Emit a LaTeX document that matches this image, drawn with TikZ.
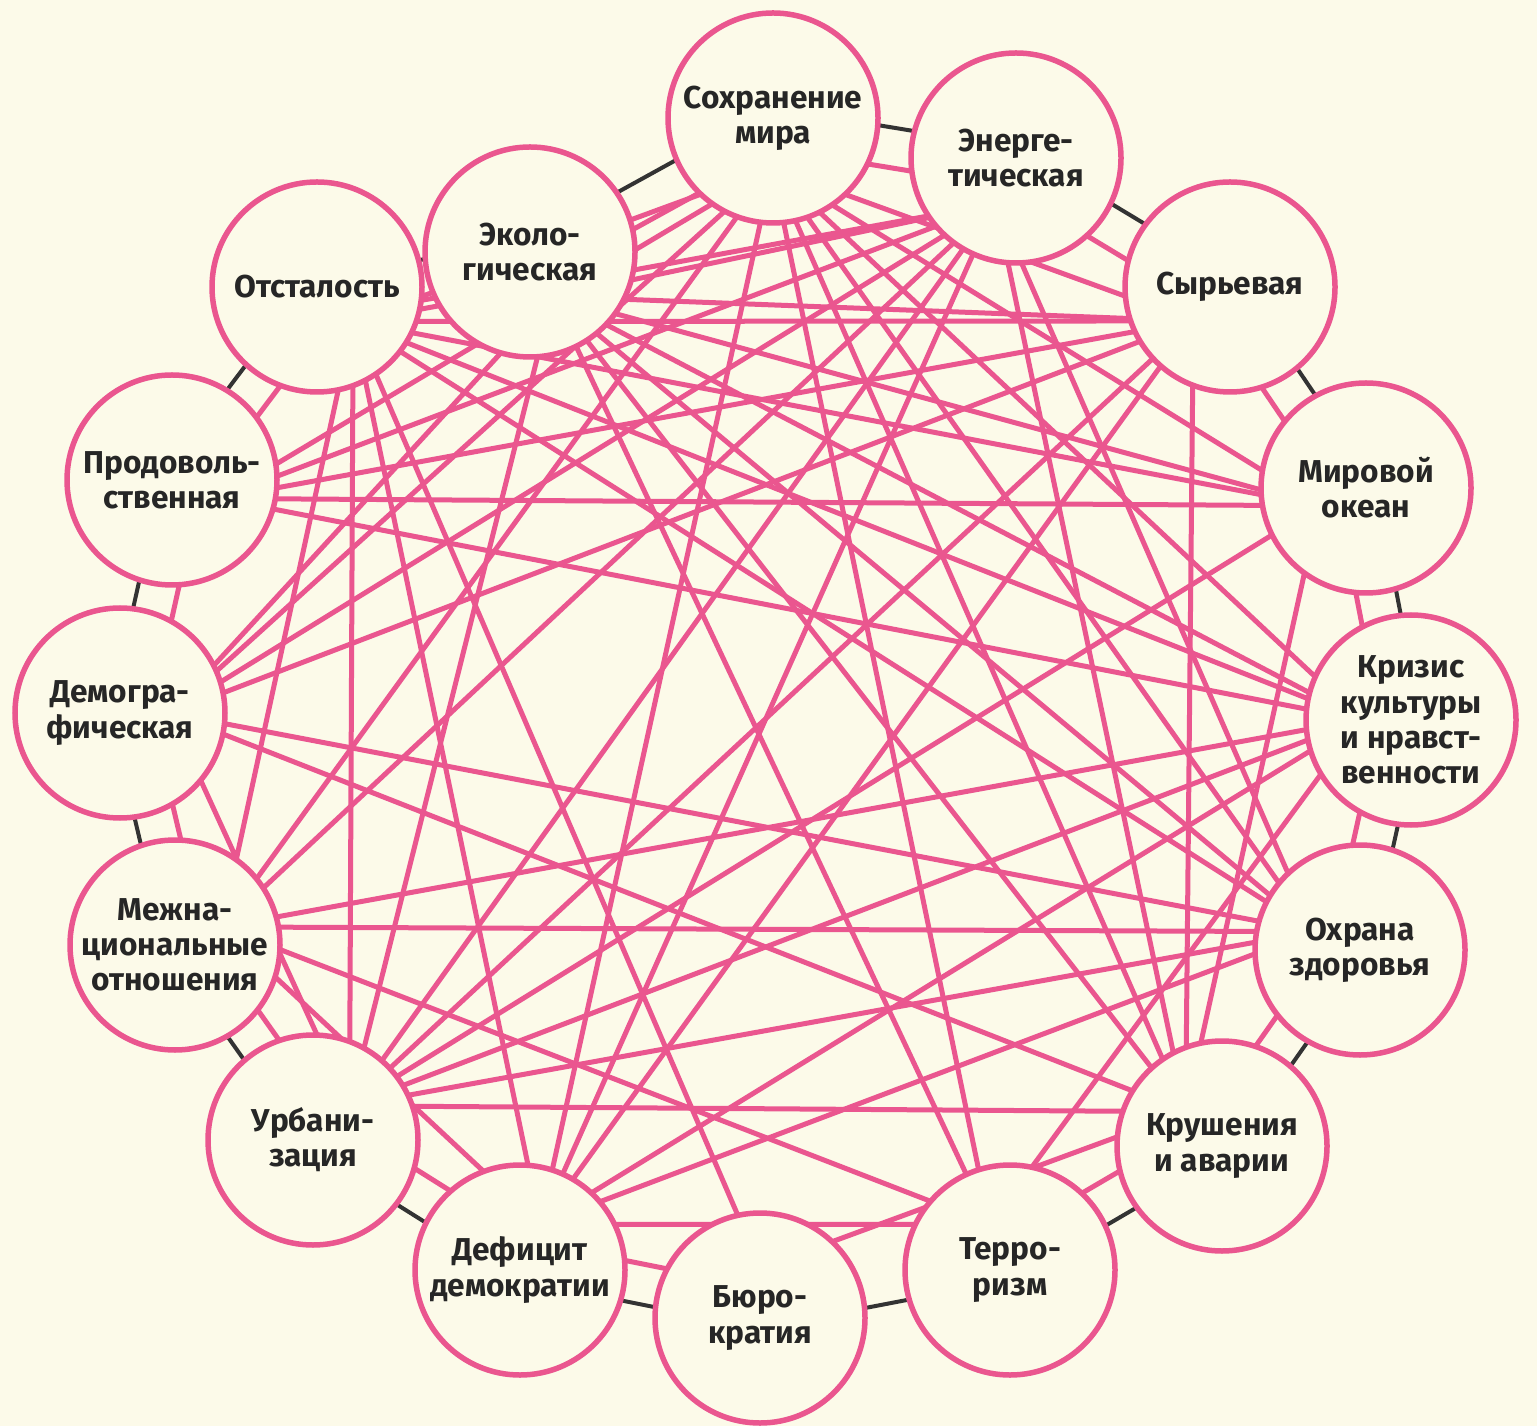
\documentclass[tikz,border=0pt]{standalone}
\usepackage{fontspec}
\setmainfont{Fira Sans}
\usetikzlibrary{backgrounds,calc}
\definecolor{ringpink}{RGB}{234,86,143}
\definecolor{paper}{RGB}{252,250,233}
\tikzset{problem/.style={draw=ringpink, line width=0.055cm, circle, fill=paper, minimum size=2.1cm, inner sep=0pt, align=center, font=\fontsize{9}{10}\selectfont\bfseries, text=black!85}}
\tikzset{link/.style={draw=ringpink, line width=0.05cm}}
\tikzset{ring/.style={draw=black!80, line width=0.04cm}}

\begin{document}
\begin{tikzpicture}
\useasboundingbox (0,0) rectangle (15.37,14.26);
\coordinate (ctr) at (7.66,7.10);
% the sixteen problems, clockwise from the top
\node[problem] (mir) at (7.73,13.08) {Сохранение\\мира};
\node[problem] (energy) at (10.16,12.68) {Энерге-\\тическая};
\node[problem] (raw) at (12.30,11.39) {Сырьевая};
\node[problem] (ocean) at (13.66,9.38) {Мировой\\океан};
\node[problem] (culture) at (14.11,7.06) {Кризис\\культуры\\и нравст-\\венности};
\node[problem] (health) at (13.60,4.76) {Охрана\\здоровья};
\node[problem] (crash) at (12.22,2.80) {Крушения\\и аварии};
\node[problem] (terror) at (10.10,1.56) {Терро-\\ризм};
\node[problem] (bureau) at (7.60,1.08) {Бюро-\\кратия};
\node[problem] (deficit) at (5.20,1.56) {Дефицит\\демократии};
\node[problem] (urban) at (3.13,2.86) {Урбани-\\зация};
\node[problem] (ethnic) at (1.75,4.81) {Межна-\\циональные\\отношения};
\node[problem] (demo) at (1.20,7.13) {Демогра-\\фическая};
\node[problem] (food) at (1.72,9.46) {Продоволь-\\ственная};
\node[problem] (backward) at (3.17,11.39) {Отсталость};
\node[problem] (eco) at (5.30,11.74) {Эколо-\\гическая};
% where the links of each circle meet, inside it
\coordinate (mir-f) at ($(mir)!0.5cm!(ctr)$);
\coordinate (energy-f) at ($(energy)!0.5cm!(ctr)$);
\coordinate (raw-f) at ($(raw)!0.5cm!(ctr)$);
\coordinate (ocean-f) at ($(ocean)!0.5cm!(ctr)$);
\coordinate (culture-f) at ($(culture)!0.5cm!(ctr)$);
\coordinate (health-f) at ($(health)!0.5cm!(ctr)$);
\coordinate (crash-f) at ($(crash)!0.5cm!(ctr)$);
\coordinate (terror-f) at ($(terror)!0.5cm!(ctr)$);
\coordinate (bureau-f) at ($(bureau)!0.5cm!(ctr)$);
\coordinate (deficit-f) at ($(deficit)!0.5cm!(ctr)$);
\coordinate (urban-f) at ($(urban)!0.5cm!(ctr)$);
\coordinate (ethnic-f) at ($(ethnic)!0.5cm!(ctr)$);
\coordinate (demo-f) at ($(demo)!0.5cm!(ctr)$);
\coordinate (food-f) at ($(food)!0.5cm!(ctr)$);
\coordinate (backward-f) at ($(backward)!0.5cm!(ctr)$);
\coordinate (eco-f) at ($(eco)!0.5cm!(ctr)$);

\begin{scope}[on background layer]
\fill[paper] (0,0) rectangle (15.37,14.26);
% neighbours: black outside, pink inside
\draw[ring] ($(mir)!0.1cm!90:(energy)$) -- ($(energy)!0.1cm!-90:(mir)$);
\draw[ring] ($(energy)!0.1cm!90:(raw)$) -- ($(raw)!0.1cm!-90:(energy)$);
\draw[ring] ($(raw)!0.1cm!90:(ocean)$) -- ($(ocean)!0.1cm!-90:(raw)$);
\draw[ring] ($(ocean)!0.1cm!90:(culture)$) -- ($(culture)!0.1cm!-90:(ocean)$);
\draw[ring] ($(culture)!0.1cm!90:(health)$) -- ($(health)!0.1cm!-90:(culture)$);
\draw[ring] ($(health)!0.1cm!90:(crash)$) -- ($(crash)!0.1cm!-90:(health)$);
\draw[ring] ($(crash)!0.1cm!90:(terror)$) -- ($(terror)!0.1cm!-90:(crash)$);
\draw[ring] ($(terror)!0.1cm!90:(bureau)$) -- ($(bureau)!0.1cm!-90:(terror)$);
\draw[ring] ($(bureau)!0.1cm!90:(deficit)$) -- ($(deficit)!0.1cm!-90:(bureau)$);
\draw[ring] ($(deficit)!0.1cm!90:(urban)$) -- ($(urban)!0.1cm!-90:(deficit)$);
\draw[ring] ($(urban)!0.1cm!90:(ethnic)$) -- ($(ethnic)!0.1cm!-90:(urban)$);
\draw[ring] ($(ethnic)!0.1cm!90:(demo)$) -- ($(demo)!0.1cm!-90:(ethnic)$);
\draw[ring] ($(demo)!0.1cm!90:(food)$) -- ($(food)!0.1cm!-90:(demo)$);
\draw[ring] ($(food)!0.1cm!90:(backward)$) -- ($(backward)!0.1cm!-90:(food)$);
\draw[ring] ($(backward)!0.1cm!90:(eco)$) -- ($(eco)!0.1cm!-90:(backward)$);
\draw[ring] ($(eco)!0.1cm!90:(mir)$) -- ($(mir)!0.1cm!-90:(eco)$);
\draw[link] ($(mir)!0.3cm!-90:(energy)$) -- ($(energy)!0.3cm!90:(mir)$);
\draw[link] ($(energy)!0.3cm!-90:(raw)$) -- ($(raw)!0.3cm!90:(energy)$);
\draw[link] ($(raw)!0.3cm!-90:(ocean)$) -- ($(ocean)!0.3cm!90:(raw)$);
\draw[link] ($(ocean)!0.3cm!-90:(culture)$) -- ($(culture)!0.3cm!90:(ocean)$);
\draw[link] ($(culture)!0.3cm!-90:(health)$) -- ($(health)!0.3cm!90:(culture)$);
\draw[link] ($(health)!0.3cm!-90:(crash)$) -- ($(crash)!0.3cm!90:(health)$);
\draw[link] ($(crash)!0.3cm!-90:(terror)$) -- ($(terror)!0.3cm!90:(crash)$);
\draw[link] ($(bureau)!0.3cm!-90:(deficit)$) -- ($(deficit)!0.3cm!90:(bureau)$);
\draw[link] ($(deficit)!0.3cm!-90:(urban)$) -- ($(urban)!0.3cm!90:(deficit)$);
\draw[link] ($(urban)!0.3cm!-90:(ethnic)$) -- ($(ethnic)!0.3cm!90:(urban)$);
\draw[link] ($(ethnic)!0.3cm!-90:(demo)$) -- ($(demo)!0.3cm!90:(ethnic)$);
\draw[link] ($(demo)!0.3cm!-90:(food)$) -- ($(food)!0.3cm!90:(demo)$);
\draw[link] ($(food)!0.3cm!-90:(backward)$) -- ($(backward)!0.3cm!90:(food)$);
\draw[link] ($(backward)!0.3cm!-90:(eco)$) -- ($(eco)!0.3cm!90:(backward)$);
\draw[link] ($(eco)!0.3cm!-90:(mir)$) -- ($(mir)!0.3cm!90:(eco)$);
% links across the ring
\draw[link] (mir-f) -- (backward-f) (mir-f) -- (food-f) (mir-f) -- (demo-f) (mir-f) -- (ethnic-f) (mir-f) -- (deficit-f) (mir-f) -- (terror-f);
\draw[link] (mir-f) -- (crash-f) (mir-f) -- (health-f) (mir-f) -- (culture-f) (mir-f) -- (ocean-f) (mir-f) -- (raw-f);
\draw[link] (eco-f) -- (demo-f) (eco-f) -- (urban-f) (eco-f) -- (terror-f) (eco-f) -- (crash-f) (eco-f) -- (health-f) (eco-f) -- (culture-f) (eco-f) -- (ocean-f) (eco-f) -- (raw-f) (eco-f) -- (energy-f);
\draw[link] (energy-f) -- (backward-f) (energy-f) -- (food-f) (energy-f) -- (demo-f) (energy-f) -- (ethnic-f) (energy-f) -- (urban-f) (energy-f) -- (deficit-f) (energy-f) -- (crash-f) (energy-f) -- (health-f);
\draw[link] (raw-f) -- (food-f) (raw-f) -- (backward-f) (raw-f) -- (demo-f) (raw-f) -- (deficit-f) (raw-f) -- (urban-f) (raw-f) -- (crash-f);
\draw[link] (ocean-f) -- (food-f) (ocean-f) -- (backward-f) (ocean-f) -- (crash-f) (ocean-f) -- (urban-f);
\draw[link] (culture-f) -- (terror-f) (culture-f) -- (food-f) (culture-f) -- (backward-f) (culture-f) -- (ethnic-f) (culture-f) -- (deficit-f) (culture-f) -- (urban-f);
\draw[link] (health-f) -- (demo-f) (health-f) -- (backward-f) (health-f) -- (deficit-f) (health-f) -- (ethnic-f) (health-f) -- (urban-f);
\draw[link] (crash-f) -- (bureau-f) (crash-f) -- (demo-f) (crash-f) -- (urban-f);
\draw[link] (terror-f) -- (deficit-f) (terror-f) -- (ethnic-f) (bureau-f) -- (backward-f);
\draw[link] (deficit-f) -- (backward-f) (deficit-f) -- (ethnic-f);
\draw[link] (urban-f) -- (demo-f) (urban-f) -- (backward-f) (ethnic-f) -- (backward-f);
\end{scope}
\end{tikzpicture}
\end{document}
